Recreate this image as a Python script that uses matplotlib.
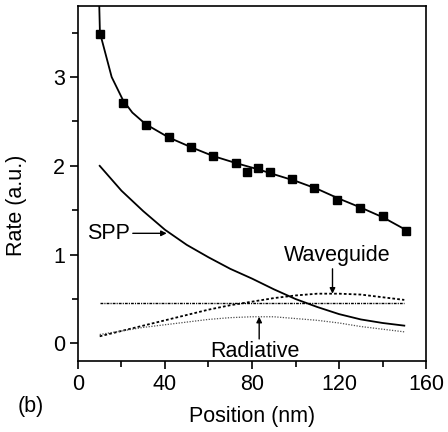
import matplotlib
matplotlib.use("Agg")
import matplotlib.pyplot as plt
from matplotlib.ticker import MultipleLocator

plt.rcParams['font.family'] = ['Liberation Sans', 'DejaVu Sans']

# measured rates (squares)
pos_data = [10.1, 20.7, 31.1, 41.7, 52.0, 62.2, 72.8, 77.8, 82.9, 88.1, 98.5, 108.7, 119.2, 129.7, 140.2, 150.6]
rate_data = [3.48, 2.71, 2.46, 2.32, 2.21, 2.11, 2.03, 1.93, 1.98, 1.93, 1.85, 1.75, 1.62, 1.52, 1.44, 1.27]

# fitted total rate
pos_fit = [9.7, 10.1, 15.5, 20.7, 25.0, 31.1, 41.7, 52.0, 62.2, 72.8, 82.9, 92.0, 100.0, 110.0, 120.0, 130.0, 140.2, 150.6]
rate_fit = [3.9, 3.5, 3.0, 2.74, 2.6, 2.47, 2.32, 2.21, 2.11, 2.03, 1.96, 1.89, 1.83, 1.74, 1.63, 1.53, 1.42, 1.28]

# decay channels
pos_ch = [10, 20, 30, 40, 50, 60, 70, 80, 90, 100, 110, 120, 130, 140, 150]
spp = [2.0, 1.72, 1.49, 1.28, 1.11, 0.97, 0.84, 0.73, 0.61, 0.50, 0.41, 0.33, 0.27, 0.23, 0.20]
waveguide = [0.08, 0.14, 0.20, 0.26, 0.32, 0.38, 0.43, 0.47, 0.51, 0.54, 0.56, 0.56, 0.55, 0.52, 0.49]
radiative = [0.10, 0.14, 0.18, 0.21, 0.24, 0.27, 0.29, 0.30, 0.30, 0.28, 0.26, 0.23, 0.19, 0.16, 0.13]
flat = [0.46] * 15

fig = plt.figure(figsize=(4.48, 4.32), dpi=100)
ax = fig.add_axes([0.174, 0.164, 0.777, 0.822])

ax.plot(pos_fit, rate_fit, color='black', lw=1.3)
ax.plot(pos_data, rate_data, 's', color='black', ms=6)
ax.plot(pos_ch, spp, color='black', lw=1.3)
ax.plot(pos_ch, waveguide, color='black', lw=1.3, linestyle=(0, (1.5, 1.2)))
ax.plot(pos_ch, radiative, color='0.3', lw=0.9, linestyle=(0, (1, 1.2)))
ax.plot(pos_ch, flat, color='black', lw=1.0, linestyle=(0, (2, 0.8, 0.8, 0.8)))

ax.set_xlim(0, 160)
ax.set_ylim(-0.2, 3.8)
ax.xaxis.set_major_locator(MultipleLocator(40))
ax.xaxis.set_minor_locator(MultipleLocator(20))
ax.yaxis.set_major_locator(MultipleLocator(1))
ax.yaxis.set_minor_locator(MultipleLocator(0.5))
ax.tick_params(which='major', direction='out', length=6, width=1.2, labelsize=15.5)
ax.tick_params(which='minor', direction='out', length=4, width=1.2)
for s in ax.spines.values():
    s.set_linewidth(1.2)

ax.set_xlabel('Position (nm)', fontsize=15.5, labelpad=8)
ax.set_ylabel('Rate (a.u.)', fontsize=15.5)
ax.yaxis.set_label_coords(-0.145, 0.44)

arrow = dict(arrowstyle='-|>', color='black', lw=1, shrinkA=0, shrinkB=0, mutation_scale=8)
ax.text(4.3, 1.24, 'SPP', fontsize=15.5, va='center')
ax.annotate('', xy=(40.8, 1.24), xytext=(25.2, 1.24), arrowprops=arrow)
ax.text(119, 0.99, 'Waveguide', fontsize=15.5, ha='center', va='center')
ax.annotate('', xy=(117, 0.56), xytext=(117, 0.84), arrowprops=arrow)
ax.text(81.5, -0.09, 'Radiative', fontsize=15.5, ha='center', va='center')
ax.annotate('', xy=(83.3, 0.30), xytext=(83.3, 0.05), arrowprops=arrow)

fig.text(0.04, 0.06, '(b)', fontsize=15.5, va='center')

fig.savefig('out.png', dpi=100)
